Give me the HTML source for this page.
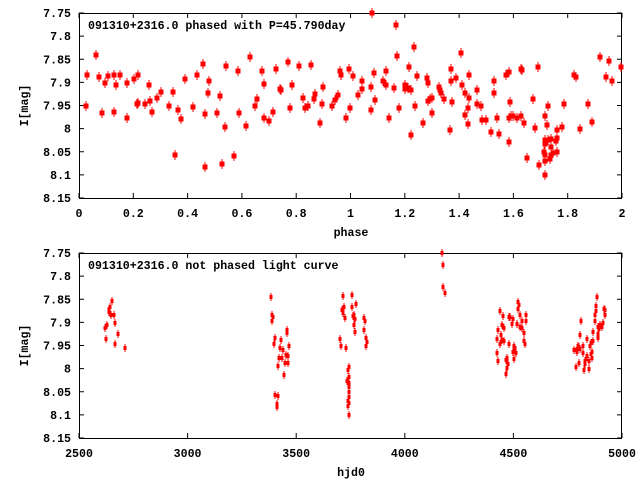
<!DOCTYPE html>
<html><head><meta charset="utf-8"><style>
html,body{margin:0;padding:0;background:#fff;}
svg text{font-family:"Liberation Mono",monospace;font-weight:bold;font-size:11.6px;fill:#000;}
</style></head><body>
<svg id="chart" width="640" height="480" xmlns="http://www.w3.org/2000/svg">
<rect width="640" height="480" fill="#fff"/>
<g id="top"></g>
<g id="bot"></g>
</svg>
<script>
const phaseYTicks=[7.75,7.8,7.85,7.9,7.95,8,8.05,8.1,8.15];
const phaseYTickLabels=["7.75","7.8","7.85","7.9","7.95","8","8.05","8.1","8.15"];
const phaseXTicks=[0,0.2,0.4,0.6,0.8,1,1.2,1.4,1.6,1.8,2];
const phaseXTickLabels=["0","0.2","0.4","0.6","0.8","1","1.2","1.4","1.6","1.8","2"];
const hjdXTicks=[2500,3000,3500,4000,4500,5000];
const hjdXTickLabels=["2500","3000","3500","4000","4500","5000"];
const phasePts=[0.024,7.950,0.029,7.883,0.064,7.841,0.072,7.889,0.086,7.967,0.094,7.902,0.108,7.887,0.130,7.885,0.130,7.963,0.138,7.906,0.152,7.885,0.175,7.902,0.175,7.976,0.204,7.893,0.215,7.947,0.219,7.883,0.219,7.945,0.244,7.947,0.259,7.906,0.263,7.941,0.270,7.963,0.289,7.934,0.303,7.921,0.333,7.950,0.347,7.921,0.355,8.058,0.366,7.960,0.377,7.980,0.391,7.893,0.421,7.954,0.436,7.885,0.457,7.861,0.465,7.969,0.465,8.084,0.476,7.924,0.480,7.896,0.509,7.967,0.520,7.930,0.527,8.077,0.538,7.997,0.542,7.865,0.572,8.060,0.586,7.876,0.590,7.967,0.616,7.995,0.630,7.846,0.649,7.952,0.656,7.937,0.675,7.876,0.682,7.904,0.682,7.976,0.700,7.984,0.715,7.963,0.726,7.872,0.741,7.915,0.744,7.917,0.770,7.857,0.777,7.956,0.785,7.906,0.811,7.865,0.825,7.934,0.833,7.956,0.844,7.950,0.855,7.863,0.866,7.937,0.870,7.926,0.888,7.988,0.895,7.947,0.899,7.911,0.932,7.950,0.943,7.939,0.954,7.928,0.961,7.876,0.965,7.885,0.983,7.978,0.994,7.870,0.998,7.956,
1.011,7.887,1.026,7.928,1.041,7.898,1.044,7.915,1.074,7.911,1.074,7.960,1.081,7.751,1.085,7.880,1.092,7.939,1.118,7.896,1.129,7.876,1.132,7.906,1.140,7.978,1.162,7.913,1.169,7.777,1.173,7.844,1.177,7.956,1.199,7.915,1.202,7.906,1.213,7.913,1.217,7.867,1.221,7.917,1.224,8.014,1.235,7.824,1.239,7.952,1.246,7.887,1.268,7.988,1.283,7.891,1.287,7.902,1.287,7.941,1.294,7.937,1.302,7.934,1.302,7.967,1.327,7.911,1.331,7.917,1.335,7.924,1.346,7.937,1.368,8.004,1.371,7.872,1.371,7.898,1.375,7.943,1.390,7.891,1.408,7.837,1.412,7.906,1.423,7.924,1.423,7.971,1.434,7.956,1.434,7.991,1.438,7.883,1.438,7.934,1.467,7.917,1.467,7.947,1.482,7.950,1.485,7.982,1.500,7.982,1.518,8.008,1.529,7.896,1.529,7.924,1.541,7.978,1.548,8.012,1.574,7.883,1.585,7.878,1.585,7.978,1.585,8.030,1.588,7.943,1.592,7.973,1.599,7.973,1.614,7.978,1.629,7.870,1.632,7.874,1.629,7.973,1.640,7.988,1.651,8.064,1.673,7.937,1.680,7.999,1.691,7.867,1.695,8.079,1.717,7.973,1.717,8.025,1.717,8.034,1.713,8.051,1.717,8.058,1.717,8.071,1.717,8.101,1.724,7.993,1.728,7.952,1.728,8.025,1.735,8.066,1.739,8.023,1.739,8.040,1.739,8.058,1.746,8.053,1.757,8.027,1.761,8.021,1.761,8.051,1.761,8.004,1.779,7.997,1.787,7.947,1.824,7.883,1.831,7.889,1.846,8.001,1.875,7.947,1.890,7.986,1.919,7.846,1.942,7.889,1.952,7.854,1.963,7.896,1.996,7.867];
const hjdPts=[2654,7.854,2645,7.867,2640,7.872,2640,7.878,2649,7.883,2663,7.885,2668,7.902,2631,7.906,2622,7.913,2681,7.926,2626,7.937,2668,7.947,2714,7.956,
3385,7.846,3389,7.883,3394,7.889,3389,7.896,3458,7.917,3458,7.924,3403,7.934,3431,7.939,3398,7.947,3467,7.952,3426,7.956,3440,7.960,3454,7.971,3463,7.973,3421,7.976,3435,7.978,3449,7.988,3463,7.988,3417,7.995,3444,8.014,3403,8.058,3417,8.060,3412,8.077,3412,8.084,
3716,7.844,3757,7.841,3775,7.861,3720,7.867,3757,7.867,3711,7.874,3716,7.880,3766,7.883,3762,7.887,3725,7.891,3771,7.893,3812,7.891,3817,7.898,3766,7.906,3812,7.917,3771,7.921,3821,7.934,3702,7.937,3826,7.943,3706,7.950,3821,7.950,3729,7.956,3743,7.997,3739,8.004,3743,8.019,3734,8.027,3743,8.032,3743,8.040,3743,8.051,3743,8.062,3739,8.071,3743,8.075,3739,8.081,3743,8.101,
4171,7.751,4175,7.777,4175,7.824,4184,7.837,
4520,7.857,4524,7.863,4520,7.872,4437,7.876,4557,7.883,4529,7.885,4451,7.887,4478,7.889,4483,7.889,4497,7.893,4538,7.896,4557,7.896,4492,7.904,4515,7.904,4446,7.906,4529,7.909,4456,7.913,4538,7.913,4428,7.917,4547,7.924,4442,7.928,4423,7.937,4446,7.939,4456,7.941,4547,7.941,4478,7.947,4437,7.947,4501,7.950,4552,7.947,4506,7.956,4497,7.963,4511,7.967,4423,7.967,4469,7.978,4501,7.980,4465,7.982,4428,7.984,4474,7.991,4469,7.999,4465,8.012,
4883,7.846,4878,7.865,4915,7.872,4924,7.874,4878,7.876,4920,7.883,4874,7.885,4874,7.896,4809,7.898,4911,7.902,4901,7.906,4888,7.909,4906,7.911,4892,7.915,4865,7.921,4805,7.928,4888,7.926,4888,7.934,4837,7.937,4865,7.941,4855,7.945,4819,7.950,4851,7.950,4796,7.950,4800,7.954,4791,7.958,4777,7.960,4805,7.958,4791,7.963,4860,7.963,4819,7.967,4855,7.969,4837,7.973,4860,7.976,4832,7.980,4828,7.984,4846,7.984,4800,7.988,4828,7.991,4786,7.997,4846,8.001,4823,8.004];

const NS="http://www.w3.org/2000/svg";
const L=79,R=622;
function mk(p,tag,a){const e=document.createElementNS(NS,tag);for(const k in a)e.setAttribute(k,a[k]);p.appendChild(e);return e;}
function panel(g,top,bot,x0,x1,xt,xtl,pts,big,title,xlabel){
  const sx=v=>L+(v-x0)/(x1-x0)*(R-L);
  const sy=v=>top+(v-7.75)/0.4*(bot-top);
  phaseYTicks.forEach((v,i)=>{
    const y=sy(v);
    const t1=mk(g,'line',{x1:L,x2:L+5,y1:y,y2:y,stroke:'#000'});
    
    
    mk(g,'line',{x1:R,x2:R-5,y1:y,y2:y,stroke:'#000'});
    const t=mk(g,'text',{x:71,y:y+4,'text-anchor':'end'});t.textContent=phaseYTickLabels[i];
    
    
  });
  xt.forEach((v,i)=>{
    const x=sx(v);
    const t1=mk(g,'line',{x1:x,x2:x,y1:bot,y2:bot-5,stroke:'#000'});
    
    
    mk(g,'line',{x1:x,x2:x,y1:top,y2:top+5,stroke:'#000'});
    const t=mk(g,'text',{x:x,y:bot+19,'text-anchor':'middle'});t.textContent=xtl[i];
    
    
  });
  const fr=mk(g,'rect',{x:L+0.5,y:top+0.5,width:R-L-1,height:bot-top,fill:'none',stroke:'#000'});
  
  
  for(let i=0;i<pts.length;i+=2){
    const x=Math.round(sx(pts[i])),y=Math.round(sy(pts[i+1]));
    const m=mk(g,'g',{});
    
    
    if(big){
      mk(m,'rect',{x:x-2.5,y:y-2.5,width:5,height:5,fill:'#f00'});
      mk(m,'rect',{x:x-0.5,y:y-5,width:1,height:10,fill:'#f00'});
    }else{
      mk(m,'rect',{x:x-1.5,y:y-2,width:3,height:4,fill:'#f00'});
      mk(m,'rect',{x:x-0.5,y:y-4,width:1,height:8,fill:'#f00'});
    }
  }
  const tt=mk(g,'text',{x:88,y:top+16});tt.textContent=title;
  
  
  const xl=mk(g,'text',{x:351,y:bot+38,'text-anchor':'middle'});xl.textContent=xlabel;
  
  
  const yc=(top+bot)/2;
  const yl=mk(g,'text',{x:28,y:yc,'text-anchor':'middle',transform:`rotate(-90 28 ${yc})`});yl.textContent='I[mag]';
  
  
}
panel(document.getElementById('top'),13,198,0,2,phaseXTicks,phaseXTickLabels,phasePts,true,'091310+2316.0 phased with P=45.790day','phase');
panel(document.getElementById('bot'),253,438,2500,5000,hjdXTicks,hjdXTickLabels,hjdPts,false,'091310+2316.0 not phased light curve','hjd0');
</script>
</body></html>
